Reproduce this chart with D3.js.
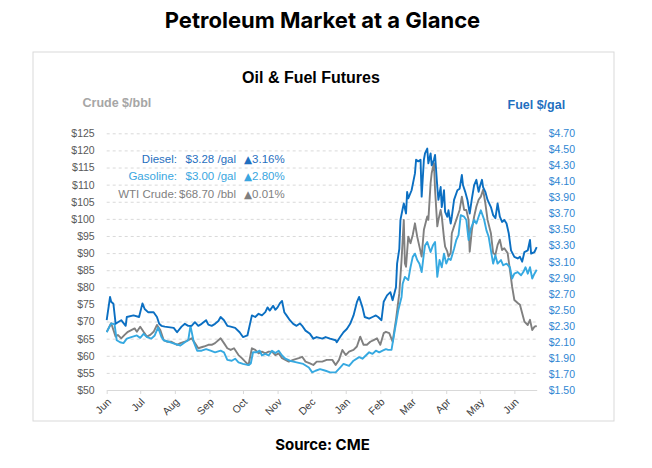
<!DOCTYPE html>
<html>
<head>
<meta charset="utf-8">
<script src="https://cdn.jsdelivr.net/npm/d3@7"></script>
<style>
  body { margin: 0; background: #fff; }
  svg { display: block; font-family: 'Liberation Sans', Arial, sans-serif; }
  .heading { font-family: Inter, 'Open Sans', sans-serif; font-weight: 700; fill: #000; }
</style>
</head>
<body>
<svg id="chart" width="652" height="468"></svg>
<script>
(function (d3) {
  'use strict';

  // WTI crude futures, $/bbl (left axis)
  const wti = [
    ['2021-06-01',67.0],['2021-06-05',69.5],['2021-06-09',65.6],['2021-06-11',66.1],['2021-06-14',65.1],
    ['2021-06-17',66.1],['2021-06-20',67.0],['2021-06-23',67.5],['2021-06-26',68.0],['2021-06-28',67.0],
    ['2021-07-01',68.5],['2021-07-04',67.0],['2021-07-07',65.6],['2021-07-10',66.1],['2021-07-13',67.0],
    ['2021-07-16',69.0],['2021-07-19',67.5],['2021-07-22',64.6],['2021-07-25',64.1],['2021-07-29',64.1],
    ['2021-08-03',63.2],['2021-08-06',63.7],['2021-08-10',64.1],['2021-08-13',64.6],['2021-08-16',65.1],
    ['2021-08-19',63.7],['2021-08-22',62.2],['2021-08-27',62.7],['2021-08-31',63.2],
    ['2021-09-03',63.2],['2021-09-06',63.7],['2021-09-11',65.1],['2021-09-14',63.7],['2021-09-17',62.2],
    ['2021-09-20',61.7],['2021-09-23',62.2],['2021-09-27',60.2],['2021-09-30',59.3],
    ['2021-10-03',58.3],['2021-10-06',57.3],['2021-10-09',62.2],['2021-10-12',61.7],['2021-10-15',60.7],
    ['2021-10-18',61.2],['2021-10-21',60.7],['2021-10-24',61.2],['2021-10-27',61.2],['2021-10-30',60.2],
    ['2021-11-02',60.7],['2021-11-05',59.3],['2021-11-08',58.8],['2021-11-11',58.3],['2021-11-15',58.8],
    ['2021-11-20',59.3],['2021-11-23',59.7],['2021-11-26',58.3],['2021-11-30',57.8],
    ['2021-12-03',57.3],['2021-12-06',58.3],['2021-12-11',58.3],['2021-12-15',58.8],['2021-12-20',58.8],
    ['2021-12-23',57.3],['2021-12-26',58.8],['2021-12-29',61.7],
    ['2022-01-01',60.2],['2022-01-04',61.2],['2022-01-08',61.7],['2022-01-11',62.7],['2022-01-14',65.6],
    ['2022-01-17',63.2],['2022-01-20',63.2],['2022-01-23',64.1],['2022-01-26',64.6],['2022-01-29',65.1],
    ['2022-02-01',63.2],['2022-02-04',66.6],['2022-02-06',67.0],['2022-02-09',66.6],['2022-02-12',64.1],
    ['2022-02-15',70.5],['2022-02-18',78.3],['2022-02-20',88.0],['2022-02-22',99.7],['2022-02-23',87.0],
    ['2022-02-24',86.0],['2022-02-26',94.8],['2022-02-28',92.9],
    ['2022-03-02',95.3],['2022-03-04',98.7],['2022-03-06',94.8],['2022-03-08',91.9],['2022-03-10',89.0],
    ['2022-03-12',96.8],['2022-03-15',100.7],['2022-03-16',99.7],['2022-03-18',110.4],['2022-03-19',113.4],
    ['2022-03-21',116.3],['2022-03-22',108.5],['2022-03-24',97.8],['2022-03-25',99.7],['2022-03-27',102.6],
    ['2022-03-28',100.7],['2022-03-30',94.4],['2022-03-31',91.9],
    ['2022-04-02',90.4],['2022-04-03',89.0],['2022-04-05',90.0],['2022-04-06',95.8],['2022-04-08',97.8],
    ['2022-04-11',100.7],['2022-04-13',102.6],['2022-04-15',106.5],['2022-04-17',102.6],['2022-04-19',102.6],
    ['2022-04-21',99.7],['2022-04-22',90.4],['2022-04-24',96.8],['2022-04-26',100.7],['2022-04-28',103.6],
    ['2022-04-30',105.6],
    ['2022-05-02',106.5],['2022-05-04',108.5],['2022-05-06',104.6],['2022-05-08',99.7],['2022-05-11',95.8],
    ['2022-05-13',90.0],['2022-05-15',89.5],['2022-05-17',92.4],['2022-05-19',93.9],['2022-05-21',90.9],
    ['2022-05-23',91.4],['2022-05-26',90.0],['2022-05-28',85.1],['2022-05-30',80.2],
    ['2022-06-01',76.3],['2022-06-04',75.4],['2022-06-06',74.9],['2022-06-08',72.4],['2022-06-10',70.0],
    ['2022-06-13',69.0],['2022-06-15',70.5],['2022-06-17',67.5],['2022-06-19',68.5],['2022-06-21',68.7]
  ];

  // Gasoline futures, $/gal (right axis)
  const gasoline = [
    ['2021-06-01',2.22],['2021-06-05',2.33],['2021-06-08',2.32],['2021-06-10',2.12],['2021-06-13',2.095],
    ['2021-06-16',2.085],['2021-06-19',2.14],['2021-06-23',2.16],['2021-06-28',2.18],
    ['2021-07-01',2.15],['2021-07-04',2.20],['2021-07-07',2.16],['2021-07-11',2.14],['2021-07-14',2.18],
    ['2021-07-17',2.28],['2021-07-20',2.16],['2021-07-22',2.12],['2021-07-28',2.095],
    ['2021-08-01',2.075],['2021-08-06',2.055],['2021-08-10',2.095],['2021-08-13',2.12],['2021-08-15',2.30],
    ['2021-08-18',2.095],['2021-08-21',1.99],['2021-08-25',1.99],['2021-08-29',2.01],
    ['2021-09-02',1.99],['2021-09-06',1.97],['2021-09-11',1.99],['2021-09-14',1.97],['2021-09-17',1.875],
    ['2021-09-21',1.865],['2021-09-24',1.89],['2021-09-27',1.845],
    ['2021-10-01',1.825],['2021-10-06',1.81],['2021-10-08',1.83],['2021-10-10',1.97],['2021-10-13',1.97],
    ['2021-10-16',1.99],['2021-10-18',1.93],['2021-10-21',1.95],['2021-10-24',1.93],['2021-10-27',1.99],
    ['2021-10-30',1.96],
    ['2021-11-02',1.99],['2021-11-05',1.93],['2021-11-08',1.89],['2021-11-12',1.865],['2021-11-18',1.845],
    ['2021-11-24',1.825],['2021-11-29',1.78],
    ['2021-12-02',1.72],['2021-12-05',1.74],['2021-12-09',1.76],['2021-12-14',1.74],['2021-12-18',1.72],
    ['2021-12-23',1.72],['2021-12-27',1.78],['2021-12-30',1.825],
    ['2022-01-04',1.80],['2022-01-08',1.865],['2022-01-13',1.91],['2022-01-16',1.89],['2022-01-19',1.93],
    ['2022-01-22',1.97],['2022-01-25',1.95],['2022-01-28',1.99],['2022-01-31',1.97],
    ['2022-02-03',1.99],['2022-02-06',2.01],['2022-02-08',2.00],['2022-02-11',2.00],['2022-02-14',2.25],
    ['2022-02-17',2.49],['2022-02-20',2.66],['2022-02-21',2.825],['2022-02-23',2.91],['2022-02-26',2.87],
    ['2022-02-28',3.03],
    ['2022-03-02',3.16],['2022-03-04',3.20],['2022-03-06',3.12],['2022-03-08',3.075],['2022-03-10',2.97],
    ['2022-03-12',3.20],['2022-03-13',3.30],['2022-03-15',3.345],['2022-03-18',3.22],['2022-03-20',3.30],
    ['2022-03-22',3.345],['2022-03-24',2.91],['2022-03-26',3.12],['2022-03-28',3.03],['2022-03-30',3.20],
    ['2022-04-01',3.075],['2022-04-03',3.14],['2022-04-05',3.12],['2022-04-08',3.26],['2022-04-10',3.37],
    ['2022-04-12',3.43],['2022-04-14',3.68],['2022-04-17',3.66],['2022-04-19',3.62],['2022-04-21',3.37],
    ['2022-04-23',3.51],['2022-04-26',3.62],['2022-04-28',3.575],['2022-04-30',3.66],
    ['2022-05-02',3.74],['2022-05-05',3.62],['2022-05-07',3.49],['2022-05-09',3.41],['2022-05-11',3.24],
    ['2022-05-13',3.075],['2022-05-15',3.18],['2022-05-17',3.075],['2022-05-20',3.12],['2022-05-22',3.055],
    ['2022-05-25',3.075],['2022-05-28',3.03],['2022-05-30',2.89],
    ['2022-06-01',2.95],['2022-06-04',2.97],['2022-06-07',2.93],['2022-06-09',2.97],['2022-06-11',3.03],
    ['2022-06-13',2.95],['2022-06-15',3.03],['2022-06-17',2.89],['2022-06-19',2.95],['2022-06-21',3.00]
  ];

  // Diesel futures, $/gal (right axis)
  const diesel = [
    ['2021-06-01',2.37],['2021-06-04',2.66],['2021-06-05',2.60],['2021-06-07',2.575],['2021-06-09',2.325],
    ['2021-06-11',2.345],['2021-06-14',2.37],['2021-06-18',2.30],['2021-06-19',2.41],['2021-06-25',2.43],
    ['2021-06-30',2.41],
    ['2021-07-03',2.58],['2021-07-05',2.51],['2021-07-08',2.47],['2021-07-13',2.47],['2021-07-16',2.41],
    ['2021-07-18',2.325],['2021-07-20',2.30],['2021-07-23',2.29],['2021-07-31',2.275],
    ['2021-08-03',2.22],['2021-08-07',2.29],['2021-08-10',2.325],['2021-08-13',2.30],['2021-08-16',2.30],
    ['2021-08-19',2.345],['2021-08-22',2.30],['2021-08-25',2.325],['2021-08-29',2.37],['2021-08-31',2.315],
    ['2021-09-03',2.30],['2021-09-06',2.325],['2021-09-09',2.36],['2021-09-11',2.41],['2021-09-14',2.37],
    ['2021-09-17',2.30],['2021-09-20',2.29],['2021-09-24',2.275],['2021-09-28',2.22],
    ['2021-10-01',2.16],['2021-10-05',2.18],['2021-10-09',2.43],['2021-10-12',2.41],['2021-10-15',2.45],
    ['2021-10-18',2.43],['2021-10-21',2.47],['2021-10-23',2.53],['2021-10-25',2.49],['2021-10-28',2.55],
    ['2021-10-30',2.50],
    ['2021-11-01',2.53],['2021-11-03',2.58],['2021-11-05',2.61],['2021-11-07',2.47],['2021-11-09',2.43],
    ['2021-11-12',2.37],['2021-11-15',2.325],['2021-11-18',2.30],['2021-11-21',2.33],['2021-11-23',2.30],
    ['2021-11-26',2.24],['2021-11-30',2.20],
    ['2021-12-03',2.14],['2021-12-06',2.16],['2021-12-11',2.14],['2021-12-14',2.16],['2021-12-18',2.14],
    ['2021-12-23',2.12],['2021-12-24',2.095],['2021-12-27',2.16],['2021-12-30',2.22],
    ['2022-01-02',2.26],['2022-01-05',2.325],['2022-01-08',2.43],['2022-01-11',2.595],['2022-01-13',2.66],
    ['2022-01-16',2.53],['2022-01-18',2.41],['2022-01-22',2.39],['2022-01-25',2.41],['2022-01-28',2.43],
    ['2022-01-30',2.41],
    ['2022-02-02',2.37],['2022-02-04',2.60],['2022-02-07',2.68],['2022-02-10',2.72],['2022-02-12',2.62],
    ['2022-02-15',2.78],['2022-02-16',3.075],['2022-02-18',3.26],['2022-02-19',3.62],['2022-02-21',3.76],
    ['2022-02-22',3.825],['2022-02-24',3.70],['2022-02-25',3.97],['2022-02-26',3.89],
    ['2022-03-01',3.99],['2022-03-04',4.20],['2022-03-05',4.37],['2022-03-07',4.35],['2022-03-09',4.37],
    ['2022-03-10',3.91],['2022-03-12',4.37],['2022-03-13',4.45],['2022-03-15',4.51],['2022-03-16',4.325],
    ['2022-03-18',4.45],['2022-03-19',4.30],['2022-03-21',4.37],['2022-03-22',4.43],['2022-03-24',4.03],
    ['2022-03-25',3.87],['2022-03-27',4.03],['2022-03-28',3.78],['2022-03-30',3.99],['2022-03-31',3.72],
    ['2022-04-02',3.66],['2022-04-03',3.74],['2022-04-05',3.575],['2022-04-06',3.66],['2022-04-08',3.87],
    ['2022-04-11',3.99],['2022-04-13',4.01],['2022-04-15',4.18],['2022-04-16',4.055],['2022-04-18',3.97],
    ['2022-04-20',3.87],['2022-04-22',3.70],['2022-04-24',3.89],['2022-04-26',4.055],['2022-04-28',4.12],
    ['2022-04-30',3.97],
    ['2022-05-01',4.03],['2022-05-03',4.12],['2022-05-04',4.03],['2022-05-06',3.97],['2022-05-08',3.87],
    ['2022-05-11',3.78],['2022-05-13',3.68],['2022-05-15',3.64],['2022-05-17',3.825],['2022-05-19',3.66],
    ['2022-05-21',3.595],['2022-05-23',3.62],['2022-05-25',3.575],['2022-05-27',3.45],['2022-05-29',3.24],
    ['2022-06-01',3.16],['2022-06-04',3.14],['2022-06-06',3.16],['2022-06-08',3.10],['2022-06-10',3.22],
    ['2022-06-13',3.24],['2022-06-15',3.37],['2022-06-16',3.20],['2022-06-19',3.22],['2022-06-21',3.28]
  ];

  const crudeTicks = [50, 55, 60, 65, 70, 75, 80, 85, 90, 95, 100, 105, 110, 115, 120, 125];
  const fuelTicks = [1.5, 1.7, 1.9, 2.1, 2.3, 2.5, 2.7, 2.9, 3.1, 3.3, 3.5, 3.7, 3.9, 4.1, 4.3, 4.5, 4.7];

  const legendLabels = ['Diesel:', 'Gasoline:', 'WTI Crude:'];
  const legendPrices = ['$3.28 /gal', '$3.00 /gal', '$68.70 /bbl'];
  const legendChanges = ['3.16%', '2.80%', '0.01%'];

  const colors = { diesel: '#0b6fc2', gasoline: '#36a9e1', wti: '#808080' };

  const parseDate = d3.timeParse('%Y-%m-%d');
  const toPoints = rows => rows.map(([date, price]) => ({ date: parseDate(date), price }));

  const svg = d3.select('svg#chart');
  const width = +svg.attr('width');
  const height = +svg.attr('height');

  const render = () => {
    const margin = { top: 133.3, right: 115.3, bottom: 78, left: 106.7 };
    const innerwidth = width - margin.left - margin.right;
    const innerheight = height - margin.top - margin.bottom;

    const series = [
      { key: 'wti', axis: 'crude', data: toPoints(wti) },
      { key: 'gasoline', axis: 'fuel', data: toPoints(gasoline) },
      { key: 'diesel', axis: 'fuel', data: toPoints(diesel) }
    ];

    const xScale = d3.scaleTime()
      .domain(d3.extent(series.flatMap(s => s.data), d => d.date))
      .range([0, innerwidth]);

    const yCrude = d3.scaleLinear()
      .domain([crudeTicks[0], crudeTicks[crudeTicks.length - 1]])
      .range([innerheight, 0]);

    const yFuel = d3.scaleLinear()
      .domain([fuelTicks[0], fuelTicks[fuelTicks.length - 1]])
      .range([innerheight, 0]);

    // headings and frame
    svg.append('text')
      .attr('class', 'heading')
      .attr('x', 322.5).attr('y', 28.3)
      .attr('text-anchor', 'middle')
      .attr('font-size', 22)
      .text('Petroleum Market at a Glance');

    svg.append('rect')
      .attr('x', 33).attr('y', 52)
      .attr('width', 581).attr('height', 369)
      .attr('fill', 'none')
      .attr('stroke', '#d9d9d9');

    svg.append('text')
      .attr('x', 311).attr('y', 83)
      .attr('text-anchor', 'middle')
      .attr('font-size', 16).attr('font-weight', 700)
      .attr('fill', '#000')
      .text('Oil & Fuel Futures');

    svg.append('text')
      .attr('x', 82.5).attr('y', 107.3)
      .attr('font-size', 12.5).attr('font-weight', 700)
      .attr('fill', '#a6a6a6')
      .text('Crude $/bbl');

    svg.append('text')
      .attr('x', 507.5).attr('y', 108.8)
      .attr('font-size', 12.5).attr('font-weight', 700)
      .attr('fill', '#1f6fc0')
      .text('Fuel $/gal');

    svg.append('text')
      .attr('class', 'heading')
      .attr('x', 322.5).attr('y', 450)
      .attr('text-anchor', 'middle')
      .attr('font-size', 15)
      .text('Source: CME');

    const g = svg.append('g')
      .attr('transform', `translate(${margin.left},${margin.top})`);

    //gridlines
    g.append('g')
      .attr('class', 'grid')
      .call(d3.axisLeft(yCrude).tickValues(crudeTicks.slice(1)).tickSize(-innerwidth).tickFormat(''))
      .call(s => s.select('.domain').remove())
      .selectAll('line')
        .attr('stroke', '#d9d9d9')
        .attr('stroke-dasharray', '3,3');

    //left axis
    g.append('g')
      .call(d3.axisLeft(yCrude).tickValues(crudeTicks).tickSize(0).tickPadding(12).tickFormat(d => `$${d}`))
      .call(s => s.select('.domain').remove())
      .selectAll('text')
        .attr('fill', '#595959')
        .attr('font-size', 10.5)
        .attr('font-family', "'Liberation Sans', Arial, sans-serif");

    //right axis
    g.append('g')
      .attr('transform', `translate(${innerwidth},0)`)
      .call(d3.axisRight(yFuel).tickValues(fuelTicks).tickSize(0).tickPadding(12).tickFormat(d => `$${d.toFixed(2)}`))
      .call(s => s.select('.domain').remove())
      .selectAll('text')
        .attr('fill', '#2f86d2')
        .attr('font-size', 10.5)
        .attr('font-family', "'Liberation Sans', Arial, sans-serif");

    //x axis
    const xAxisG = g.append('g')
      .attr('transform', `translate(0,${innerheight})`)
      .call(d3.axisBottom(xScale).ticks(d3.timeMonth.every(1)).tickSize(4).tickSizeOuter(0).tickFormat(d3.timeFormat('%b')));
    xAxisG.select('.domain').attr('stroke', '#d9d9d9');
    xAxisG.selectAll('line').attr('stroke', '#d9d9d9');
    xAxisG.selectAll('text')
      .attr('x', 0).attr('y', 0).attr('dy', '0.35em')
      .attr('text-anchor', 'end')
      .attr('transform', 'translate(2,10) rotate(-45)')
      .attr('fill', '#404040')
      .attr('font-size', 10.5)
      .attr('font-family', "'Liberation Sans', Arial, sans-serif");

    //lines
    const lineFor = yScale => d3.line()
      .x(d => xScale(d.date))
      .y(d => yScale(d.price));

    g.selectAll('.line-path').data(series)
      .enter().append('path')
        .attr('class', 'line-path')
        .attr('fill', 'none')
        .attr('stroke', d => colors[d.key])
        .attr('stroke-width', 1.9)
        .attr('stroke-linejoin', 'round')
        .attr('d', d => lineFor(d.axis === 'crude' ? yCrude : yFuel)(d.data));

    //legend
    const legendColors = ['#1f6fc0', '#3aa6e0', '#7f7f7f'];
    const rowY = [163, 179.5, 198];
    const legend = svg.append('g').attr('font-size', 11.5);
    legendLabels.forEach((label, i) => {
      const row = legend.append('g').attr('fill', legendColors[i]);
      row.append('text').attr('x', 177).attr('y', rowY[i]).attr('text-anchor', 'end').text(label);
      row.append('text').attr('x', 236).attr('y', rowY[i]).attr('text-anchor', 'end').text(legendPrices[i]);
      const change = row.append('text').attr('x', 244).attr('y', rowY[i]);
      change.append('tspan').attr('font-family', "'DejaVu Sans', sans-serif").attr('font-size', 10.5).text('\u25B2');
      change.append('tspan').text(legendChanges[i]);
    });
  };

  render();

}(d3));
</script>
</body>
</html>
